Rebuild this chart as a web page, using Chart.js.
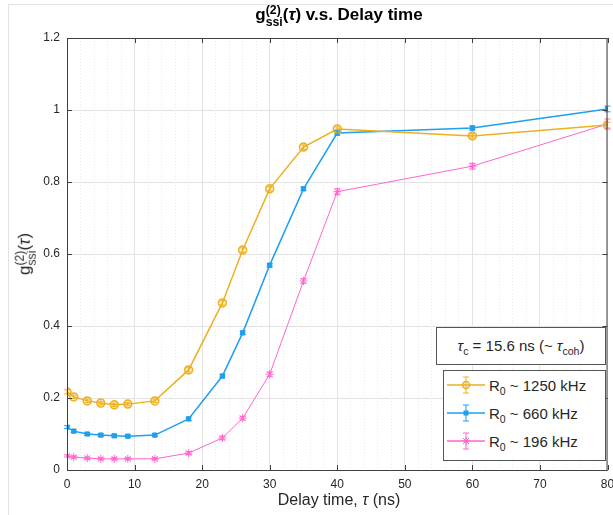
<!DOCTYPE html>
<html>
<head>
<meta charset="utf-8">
<script src="https://cdn.jsdelivr.net/npm/chart.js@4/dist/chart.umd.min.js"></script>
<style>
  body { margin: 0; background: #fff; font-family: "Liberation Sans", Arial, sans-serif; color: #262626; }
  #wrap { position: relative; width: 613px; height: 515px; overflow: hidden; }
  .frame { position: absolute; left: 8px; top: 4px; width: 700px; height: 600px; border: 1px solid #e2e2e2; }
  canvas { position: absolute; left: 0; top: 0; }
  .title { position: absolute; left: 67px; width: 544px; top: 4px; text-align: center; font-weight: bold; font-size: 17px; color: #000; }
  .ylab { position: absolute; left: 26px; top: 254px; transform: translate(-50%, -50%) rotate(-90deg); font-size: 17px; white-space: nowrap; }
  sub, sup { font-size: 70%; line-height: 0; }
  .ssup { display: inline-block; vertical-align: -0.5em; line-height: 1; font-size: 72%; text-align: left; }
  .ssup span { display: block; }
  .xlab { position: absolute; left: 67px; width: 544px; top: 491px; text-align: center; font-size: 16px; }
  .note { position: absolute; left: 436px; top: 327px; width: 168px; height: 36px; border: 1px solid #555; background: #fff; font-size: 15px; line-height: 36px; text-align: center; }
  .legend { position: absolute; left: 443px; top: 370px; width: 161px; height: 89px; border: 1px solid #555; background: #fff; font-size: 15px; }
  .legend div { height: 28px; display: flex; align-items: center; padding-left: 2px; }
  .legend svg { margin-right: 3px; }
</style>
</head>
<body>
<div id="wrap">
  <div class="frame"></div>
  <canvas id="chart" width="613" height="515"></canvas>
  <div class="title">g<span class="ssup"><span>(2)</span><span>ssi</span></span>(<i>τ</i>) v.s. Delay time</div>
  <div class="ylab">g<span class="ssup"><span>(2)</span><span>ssi</span></span>(<i>τ</i>)</div>
  <div class="xlab">Delay time, <i>τ</i> (ns)</div>
  <div class="note"><i>τ</i><sub>c</sub> = 15.6 ns (~ <i>τ</i><sub>coh</sub>)</div>
  <div class="legend" id="legend"></div>
</div>
<script>
const delays = [0, 1, 3, 5, 7, 9, 13, 18, 23, 26, 30, 35, 40, 60, 80];
const g2High = [0.217, 0.203, 0.192, 0.186, 0.181, 0.183, 0.192, 0.278, 0.464, 0.611, 0.781, 0.897, 0.947, 0.928, 0.958];
const g2Mid  = [0.119, 0.108, 0.100, 0.097, 0.095, 0.094, 0.097, 0.142, 0.261, 0.381, 0.569, 0.781, 0.936, 0.950, 1.003];
const g2Low  = [0.039, 0.036, 0.033, 0.031, 0.031, 0.031, 0.031, 0.047, 0.089, 0.144, 0.266, 0.525, 0.773, 0.844, 0.961];
const errHigh = [0.006, 0.005, 0.005, 0.005, 0.005, 0.005, 0.005, 0.006, 0.006, 0.006, 0.006, 0.006, 0.006, 0.006, 0.008];
const errMid  = [0.004, 0.004, 0.004, 0.004, 0.004, 0.004, 0.004, 0.005, 0.005, 0.005, 0.005, 0.005, 0.006, 0.006, 0.008];
const errLow  = [0.003, 0.003, 0.003, 0.003, 0.003, 0.003, 0.003, 0.004, 0.005, 0.005, 0.006, 0.006, 0.008, 0.008, 0.014];
const seriesLabels = ['1250 kHz', '660 kHz', '196 kHz'];
const colors = ['#EDB120', '#1E9FEF', '#FF66CC'];

const toPoints = vals => vals.map((v, i) => ({ x: delays[i], y: v }));

// vertical error bars drawn through the chart scales
const errorBars = {
  id: 'errorBars',
  afterDatasetsDraw(chart) {
    const { ctx, scales: { x, y } } = chart;
    chart.data.datasets.forEach(ds => {
      ctx.save();
      ctx.strokeStyle = ds.borderColor;
      ctx.lineWidth = 1;
      ds.errors.forEach((e, i) => {
        const px = x.getPixelForValue(delays[i]);
        const top = y.getPixelForValue(ds.data[i].y + e);
        const bot = y.getPixelForValue(ds.data[i].y - e);
        ctx.beginPath();
        ctx.moveTo(px, top); ctx.lineTo(px, bot);
        ctx.moveTo(px - 3, top); ctx.lineTo(px + 3, top);
        ctx.moveTo(px - 3, bot); ctx.lineTo(px + 3, bot);
        ctx.stroke();
      });
      ctx.restore();
    });
  }
};

// MATLAB-style box with inward ticks
const axesBox = {
  id: 'axesBox',
  afterDraw(chart) {
    const { ctx, chartArea: a, scales: { x, y } } = chart;
    ctx.save();
    ctx.strokeStyle = '#404040';
    ctx.lineWidth = 1;
    ctx.strokeRect(a.left + 0.5, a.top + 0.5, a.right - a.left - 1, a.bottom - a.top);
    ctx.beginPath();
    x.ticks.filter(t => t.value % 10 === 0).forEach(t => {
      const px = Math.round(x.getPixelForValue(t.value)) + 0.5;
      ctx.moveTo(px, a.bottom); ctx.lineTo(px, a.bottom - 5);
      ctx.moveTo(px, a.top); ctx.lineTo(px, a.top + 5);
    });
    y.ticks.forEach(t => {
      const py = Math.round(y.getPixelForValue(t.value)) + 0.5;
      ctx.moveTo(a.left, py); ctx.lineTo(a.left + 5, py);
      ctx.moveTo(a.right, py); ctx.lineTo(a.right - 5, py);
    });
    ctx.stroke();
    ctx.restore();
  }
};

const chart = new Chart(document.getElementById('chart'), {
  type: 'scatter',
  data: {
    datasets: [
      { data: toPoints(g2High), errors: errHigh, borderColor: colors[0], backgroundColor: 'rgba(237,177,32,0.2)',
        pointStyle: 'circle', pointRadius: 4, pointBorderWidth: 1.5, borderWidth: 1.5 },
      { data: toPoints(g2Mid), errors: errMid, borderColor: colors[1], backgroundColor: colors[1],
        pointStyle: 'rect', pointRadius: 3, pointBorderWidth: 1, borderWidth: 1.5 },
      { data: toPoints(g2Low), errors: errLow, borderColor: colors[2], backgroundColor: colors[2],
        pointStyle: 'star', pointRadius: 4, pointBorderWidth: 1, borderWidth: 1 }
    ].map(d => Object.assign(d, { showLine: true, pointHoverRadius: d.pointRadius }))
  },
  options: {
    responsive: false,
    animation: false,
    layout: { padding: { left: 0, right: 2, top: 38, bottom: 0 } },
    plugins: { legend: { display: false }, tooltip: { enabled: false } },
    scales: {
      x: {
        type: 'linear', min: 0, max: 80,
        afterFit: s => { s.height = 45; s.paddingRight = 0; },
        ticks: {
          stepSize: 2, autoSkip: false, maxRotation: 0, padding: 7,
          color: '#262626', font: { family: 'Liberation Sans, Arial', size: 12 },
          callback: v => (v % 10 === 0 ? v : '')
        },
        grid: {
          drawTicks: false,
          color: c => (c.tick && c.tick.value % 10 === 0 ? '#e3e3e3' : '#ebebeb')
        },
        border: { display: false, dash: c => (c.tick && c.tick.value % 10 !== 0 ? [1, 2] : []) }
      },
      y: {
        min: 0, max: 1.2,
        afterFit: s => { s.width = 67; },
        ticks: { stepSize: 0.2, padding: 7, color: '#262626',
          font: { family: 'Liberation Sans, Arial', size: 12 },
          callback: v => Math.round(v * 10) / 10 },
        grid: { drawTicks: false, color: '#e3e3e3' },
        border: { display: false }
      }
    }
  },
  plugins: [errorBars, axesBox]
});

// legend with subscript text and error-bar icons
const legend = document.getElementById('legend');
const markers = [
  c => `<circle cx="20" cy="10" r="3.5" fill="rgba(237,177,32,0.2)" stroke="${c}" stroke-width="1.5"/>`,
  c => `<rect x="17.5" y="7.5" width="5" height="5" fill="${c}"/>`,
  c => `<path d="M17 7l6 6M23 7l-6 6M20 6v8M16 10h8" stroke="${c}" stroke-width="1"/>`
];
seriesLabels.forEach((lab, i) => {
  const c = colors[i];
  const row = document.createElement('div');
  row.innerHTML =
    `<svg width="40" height="20"><line x1="1" y1="10" x2="39" y2="10" stroke="${c}" stroke-width="1.5"/>` +
    `<line x1="20" y1="2" x2="20" y2="18" stroke="${c}"/><line x1="17" y1="2" x2="23" y2="2" stroke="${c}"/>` +
    `<line x1="17" y1="18" x2="23" y2="18" stroke="${c}"/>${markers[i](c)}</svg>` +
    `<span>R<sub>0</sub> ~ ${lab}</span>`;
  legend.appendChild(row);
});
</script>
</body>
</html>
